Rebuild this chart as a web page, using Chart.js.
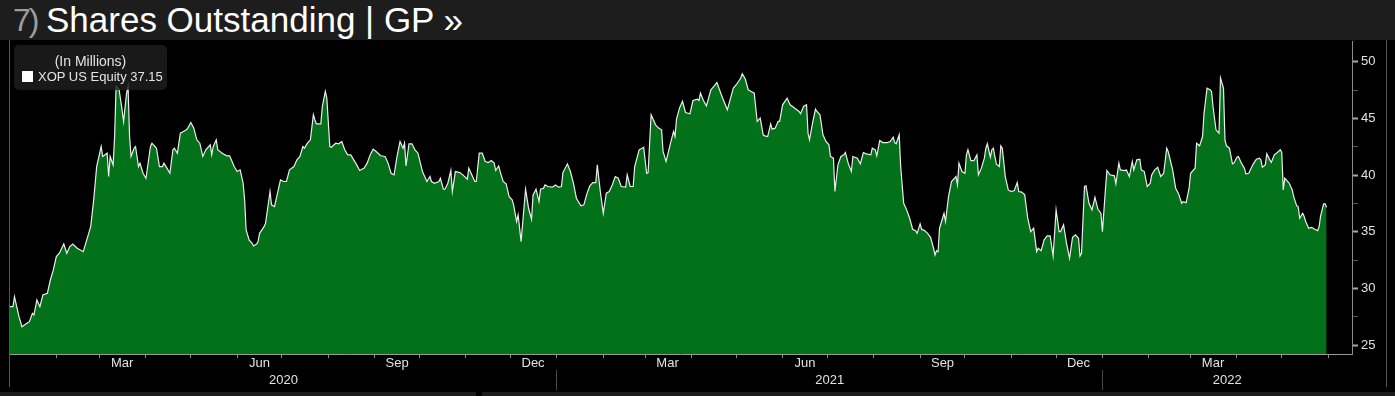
<!DOCTYPE html>
<html>
<head>
<meta charset="utf-8">
<script src="https://cdn.jsdelivr.net/npm/chart.js@4.4.1/dist/chart.umd.min.js"></script>
<style>
  html, body { margin: 0; padding: 0; background: #000; width: 1395px; height: 396px; overflow: hidden; font-family: 'Liberation Sans', Arial, sans-serif; }
  #title { position: absolute; left: 0; top: 0; width: 1395px; height: 40px; background: #1d1d1d; }
  #title span { position: absolute; top: 2px; font-size: 35px; line-height: 35px; white-space: nowrap; }
  #title .num { left: 13px; top: 3px; font-size: 32px; color: #9c9c9c; letter-spacing: -2px; }
  #title .txt { left: 46px; color: #fff; }
  #frame { position: absolute; left: 9px; top: 40px; width: 1376px; height: 347px; border-left: 1px solid #555; border-right: 1px solid #555; }
  #wrap { position: absolute; left: 0; top: 40px; width: 1395px; height: 352px; }
  #legend { position: absolute; left: 14px; top: 45px; width: 153px; height: 45px; background: rgba(30, 30, 30, 0.82); border-radius: 5px; color: #e4e4e4; font-size: 13px; line-height: 15px; }
  #legend .unit { position: absolute; top: 9px; left: 0; width: 153px; text-align: center; font-size: 14px; }
  #legend .item { position: absolute; top: 24px; left: 24px; white-space: nowrap; }
  #legend .box { position: absolute; top: 26px; left: 8px; width: 11px; height: 11px; background: #fff; }
  .bar { position: absolute; top: 392px; height: 4px; background: #1c1c1c; }
</style>
</head>
<body>
<div id="title"><span class="num">7)</span><span class="txt">Shares Outstanding | GP »</span></div>
<div id="frame"></div>
<div id="wrap"><canvas id="chart" width="1395" height="352"></canvas></div>
<div id="legend">
  <div class="unit">(In Millions)</div>
  <div class="box"></div>
  <div class="item">XOP US Equity 37.15</div>
</div>
<div class="bar" style="left:0;width:476px"></div>
<div class="bar" style="left:482px;width:913px"></div>
<script>
// days counted from 2020-01-01
const days = [
  0, 2, 3, 6, 8, 11, 13, 15, 16, 18, 20, 22, 25, 27, 29, 31, 33, 36, 38, 40,
  42, 45, 49, 51, 54, 56, 58, 60, 61, 62, 65, 66, 67, 69, 70, 71, 73, 75, 76, 78,
  79, 80, 81, 83, 84, 86, 87, 89, 91, 94, 95, 97, 98, 100, 102, 103, 105, 107, 109, 110,
  112, 114, 116, 118, 119, 121, 123, 125, 127, 129, 131, 133, 134, 135, 136, 138, 139, 142, 145, 147,
  150, 152, 154, 156, 157, 158, 160, 162, 163, 165, 166, 167, 170, 171, 174, 175, 177, 179, 181, 183,
  185, 187, 190, 192, 194, 196, 197, 199, 201, 203, 204, 205, 208, 209, 211, 212, 214, 215, 218, 220,
  222, 224, 226, 228, 230, 232, 234, 237, 239, 241, 243, 245, 248, 251, 253, 255, 257, 259, 261, 263,
  264, 265, 267, 269, 271, 273, 276, 278, 279, 281, 282, 284, 287, 288, 290, 291, 293, 295, 296, 298,
  301, 303, 306, 307, 309, 311, 312, 314, 316, 318, 320, 322, 324, 325, 327, 328, 330, 332, 334, 336,
  337, 339, 340, 342, 344, 345, 347, 349, 350, 352, 354, 355, 357, 358, 360, 363, 365, 367, 369, 370,
  373, 375, 377, 379, 382, 384, 386, 388, 390, 392, 393, 395, 397, 399, 401, 403, 405, 407, 409, 412,
  413, 415, 417, 418, 421, 423, 424, 426, 427, 429, 432, 434, 436, 437, 439, 442, 444, 445, 446, 448,
  450, 452, 455, 457, 460, 461, 462, 464, 466, 469, 471, 473, 476, 480, 482, 484, 486, 489, 490, 492,
  494, 496, 498, 500, 502, 504, 505, 507, 509, 510, 512, 514, 515, 517, 520, 522, 525, 528, 529, 531,
  533, 534, 535, 537, 539, 540, 542, 544, 546, 548, 549, 551, 552, 554, 556, 558, 559, 561, 563, 564,
  567, 569, 571, 573, 576, 577, 579, 580, 582, 584, 587, 589, 591, 592, 593, 595, 596, 598, 600, 602,
  604, 606, 607, 609, 610, 612, 614, 616, 618, 619, 620, 621, 622, 625, 626, 628, 630, 633, 634, 635,
  637, 639, 640, 641, 643, 645, 647, 648, 650, 652, 653, 654, 656, 657, 658, 660, 662, 663, 664, 666,
  668, 670, 672, 674, 675, 677, 679, 681, 683, 685, 687, 688, 690, 692, 694, 696, 698, 700, 702, 703,
  705, 707, 709, 711, 713, 715, 716, 717, 719, 720, 722, 724, 726, 728, 730, 731, 733, 734, 736, 739,
  740, 742, 743, 746, 747, 749, 751, 752, 754, 756, 757, 759, 761, 763, 764, 766, 768, 770, 772, 774,
  775, 778, 780, 782, 784, 785, 787, 789, 790, 793, 794, 796, 798, 799, 801, 803, 804, 805, 807, 809,
  810, 812, 813, 814, 816, 818, 819, 821, 822, 824, 826, 827, 829, 830, 832, 834, 836, 837, 838, 840,
  841, 843, 844, 846, 848, 850, 851, 852, 853, 856, 858, 859, 861, 862, 863, 865, 866, 867, 869, 871,
  873, 875, 876, 877, 879, 880, 881
];

// shares outstanding, millions
const shares = [
  28.39, 28.39, 29.27, 27.50, 26.62, 26.91, 27.06, 27.80, 27.65, 28.98, 28.39, 29.42, 29.56, 30.74, 31.63, 32.80, 33.10, 33.92, 33.10, 33.69,
  33.92, 33.54, 33.24, 34.13, 35.45, 37.81, 40.75, 41.93, 42.52, 41.64, 41.93, 39.87, 41.64, 40.90, 43.40, 47.82, 47.53, 45.76, 44.73, 47.23,
  47.82, 43.40, 41.64, 42.37, 42.52, 40.75, 41.05, 40.16, 39.72, 42.52, 42.81, 42.52, 42.37, 40.75, 40.75, 41.05, 40.61, 40.16, 42.23, 42.37,
  41.93, 43.70, 43.85, 43.99, 44.14, 44.64, 44.14, 43.11, 42.81, 41.64, 42.23, 42.52, 42.67, 41.78, 42.52, 43.11, 42.23, 41.93, 41.70, 41.70,
  40.75, 40.31, 40.46, 39.28, 37.81, 35.16, 34.28, 33.98, 33.75, 33.92, 34.13, 34.86, 35.45, 35.75, 38.55, 37.37, 37.22, 38.40, 39.58, 39.43,
  39.43, 40.46, 40.75, 41.34, 41.64, 42.52, 42.37, 42.81, 43.11, 45.32, 44.88, 44.52, 44.52, 46.05, 47.38, 46.79, 42.52, 42.46, 42.81, 42.76,
  42.96, 42.23, 41.78, 41.78, 41.34, 40.90, 40.40, 40.61, 41.05, 41.78, 42.28, 42.08, 41.70, 41.64, 41.05, 40.16, 40.02, 41.64, 42.96, 42.37,
  42.81, 40.81, 42.76, 42.76, 42.23, 41.93, 40.31, 39.72, 39.43, 39.87, 39.43, 39.28, 39.43, 39.72, 38.75, 38.75, 39.28, 40.40, 38.55, 40.31,
  40.22, 40.02, 39.63, 40.61, 40.02, 39.43, 39.43, 41.93, 41.93, 41.20, 41.11, 41.28, 41.05, 40.40, 40.81, 40.31, 39.43, 39.22, 38.10, 37.81,
  37.37, 35.90, 36.48, 34.13, 37.22, 38.75, 37.07, 36.10, 38.25, 38.75, 37.66, 38.75, 38.84, 39.13, 38.99, 38.93, 39.13, 38.93, 38.99, 40.22,
  40.99, 40.31, 39.28, 37.96, 37.28, 37.37, 38.34, 39.05, 39.34, 39.34, 40.90, 38.55, 36.63, 38.40, 38.55, 39.13, 39.87, 39.72, 38.99, 38.93,
  40.02, 38.99, 38.99, 40.75, 42.23, 42.37, 42.46, 40.16, 40.22, 45.32, 44.43, 44.14, 43.99, 42.08, 41.20, 42.81, 43.85, 43.40, 44.94, 45.91,
  46.50, 45.52, 45.41, 46.58, 46.70, 46.58, 47.23, 46.58, 46.11, 47.53, 47.82, 48.17, 47.08, 45.76, 46.70, 47.67, 47.97, 48.56, 48.94, 48.47,
  47.53, 47.38, 47.23, 44.73, 45.02, 43.55, 43.46, 43.40, 44.52, 44.05, 44.14, 44.73, 44.73, 46.20, 46.79, 46.20, 45.91, 45.61, 45.41, 46.05,
  46.20, 43.70, 43.11, 44.58, 45.82, 45.61, 45.32, 43.55, 42.96, 42.67, 41.64, 41.49, 38.55, 40.90, 41.64, 41.78, 41.99, 40.99, 40.31, 41.64,
  41.49, 40.99, 41.99, 41.87, 41.78, 42.37, 42.23, 41.70, 43.05, 42.87, 42.87, 42.96, 43.35, 42.87, 42.76, 43.55, 40.75, 37.51, 36.93, 36.19,
  35.22, 35.10, 34.86, 35.69, 35.22, 35.10, 34.86, 34.51, 33.54, 32.95, 33.33, 33.24, 35.31, 36.63, 35.90, 38.10, 39.43, 39.87, 39.13, 41.05,
  40.31, 40.16, 41.78, 42.23, 41.28, 41.28, 41.78, 40.02, 40.61, 41.49, 42.37, 42.76, 41.58, 42.23, 42.37, 40.99, 40.75, 42.58, 42.37, 39.87,
  38.69, 38.55, 38.63, 39.34, 38.55, 38.49, 38.25, 36.19, 35.01, 35.31, 33.24, 33.54, 33.33, 34.28, 34.63, 34.63, 32.86, 36.93, 35.01, 35.01,
  35.60, 33.98, 32.66, 34.51, 34.72, 34.42, 32.86, 33.10, 38.99, 39.05, 37.51, 36.93, 38.04, 36.98, 36.63, 35.01, 38.69, 40.40, 40.02, 39.93,
  39.22, 41.05, 40.46, 40.40, 40.46, 39.87, 41.20, 40.46, 41.34, 41.40, 40.46, 40.31, 38.99, 39.28, 40.02, 40.46, 40.69, 39.87, 40.16, 42.37,
  42.08, 40.46, 38.84, 38.34, 37.51, 37.66, 37.57, 38.84, 40.16, 40.61, 42.81, 42.58, 43.40, 45.47, 47.67, 47.53, 47.38, 46.05, 43.99, 43.70,
  48.56, 47.67, 43.11, 42.58, 42.37, 40.99, 41.05, 41.58, 41.64, 41.05, 40.61, 40.11, 40.16, 40.46, 40.99, 41.40, 41.49, 41.34, 40.69, 40.90,
  41.87, 41.34, 41.11, 41.78, 41.99, 42.23, 41.99, 38.69, 39.72, 39.28, 38.69, 38.10, 37.28, 37.22, 36.19, 36.63, 36.34, 35.90, 35.31, 35.39,
  35.22, 35.10, 35.45, 36.40, 37.46, 37.46, 37.15
];

const monthLabels = ['Mar', 'Jun', 'Sep', 'Dec', 'Mar', 'Jun', 'Sep', 'Dec', 'Mar'];
const monthLabelDates = ['2020-03-16', '2020-06-16', '2020-09-16', '2020-12-16', '2021-03-16', '2021-06-16', '2021-09-16', '2021-12-16', '2022-03-16'];
const yearLabels = ['2020', '2021', '2022'];
const yTicks = [25, 27.5, 30, 32.5, 35, 37.5, 40, 42.5, 45, 47.5, 50];

const base = Date.UTC(2020, 0, 1);
const xMax = 898; // axis runs to mid June 2022
const toDay = s => Math.round((Date.parse(s) - base) / 86400000);

const monthStarts = [];
for (let y = 2020; y <= 2022; y++) {
  for (let m = 0; m < 12; m++) {
    const d = Math.round((Date.UTC(y, m, 1) - base) / 86400000);
    if (d > 0 && d < xMax) monthStarts.push(d);
  }
}
const yearStarts = [toDay('2021-01-01'), toDay('2022-01-01')];
const yearEdges = [0, ...yearStarts, xMax];
const yearTicks = [];
yearLabels.forEach((lab, i) => {
  yearTicks.push({ value: (yearEdges[i] + yearEdges[i + 1]) / 2, lab: lab });
  if (i < yearStarts.length) yearTicks.push({ value: yearStarts[i], lab: '' });
});

const axisFont = { family: "'Liberation Sans', Arial, sans-serif", size: 13 };
const points = days.map((d, i) => ({ x: d, y: shares[i] }));

// keep the plot area fixed: no label overhang padding
const noPad = s => { s.paddingTop = 0; s.paddingBottom = 0; s.paddingLeft = 0; s.paddingRight = 0; };

new Chart(document.getElementById('chart'), {
  type: 'line',
  data: {
    datasets: [{
      data: points,
      borderColor: '#ededed',
      borderWidth: 1.2,
      backgroundColor: 'rgb(3, 112, 26)',
      fill: 'start',
      pointRadius: 0,
      tension: 0
    }]
  },
  options: {
    responsive: false,
    animation: false,
    layout: { padding: { left: 10, top: 1, right: 0, bottom: 0 } },
    plugins: { legend: { display: false }, tooltip: { enabled: false } },
    scales: {
      x: {
        type: 'linear', position: 'bottom', min: 0, max: xMax, weight: 0,
        afterBuildTicks: s => { s.ticks = monthStarts.map(v => ({ value: v })); },
        afterFit: s => { s.height = 4; noPad(s); },
        ticks: { display: false },
        grid: { drawOnChartArea: false, drawTicks: true, tickLength: 4, tickColor: '#8c8c8c' },
        border: { display: true, color: '#9a9a9a' }
      },
      xMonth: {
        type: 'linear', position: 'bottom', min: 0, max: xMax, weight: 1,
        afterBuildTicks: s => { s.ticks = monthLabelDates.map(v => ({ value: toDay(v) })); },
        afterFit: s => { s.height = 12; noPad(s); },
        ticks: {
          color: '#e2e2e2', font: axisFont, padding: -2, autoSkip: false, maxRotation: 0,
          callback: (v, i) => monthLabels[i]
        },
        grid: { display: false, drawTicks: false },
        border: { display: false }
      },
      xYear: {
        type: 'linear', position: 'bottom', min: 0, max: xMax, weight: 2,
        afterBuildTicks: s => { s.ticks = yearTicks.map(t => ({ value: t.value })); },
        afterFit: s => { s.height = 22; noPad(s); },
        ticks: {
          color: '#e2e2e2', font: axisFont, padding: -17, autoSkip: false, maxRotation: 0,
          callback: (v, i) => yearTicks[i].lab
        },
        grid: {
          drawOnChartArea: false, drawTicks: true, tickLength: 20,
          tickColor: ctx => (ctx.tick && ctx.tick.label === '') ? '#4a4a4a' : 'rgba(0,0,0,0)'
        },
        border: { display: false }
      },
      y: {
        position: 'right', min: 24.21, max: 51.83,
        afterBuildTicks: s => { s.ticks = yTicks.map(v => ({ value: v })); },
        afterFit: s => { s.width = 43; noPad(s); },
        ticks: {
          color: '#e2e2e2', font: axisFont, padding: 3,
          callback: v => (v % 5 === 0 ? String(v) : '')
        },
        grid: {
          drawOnChartArea: false, drawTicks: true, tickLength: 6,
          tickColor: ctx => (ctx.tick && ctx.tick.value % 5 === 0) ? '#a8a8a8' : '#555',
          tickWidth: ctx => (ctx.tick && ctx.tick.value % 5 === 0) ? 2 : 1
        },
        border: { display: true, color: '#8a8a8a' }
      }
    }
  }
});
</script>
</body>
</html>
